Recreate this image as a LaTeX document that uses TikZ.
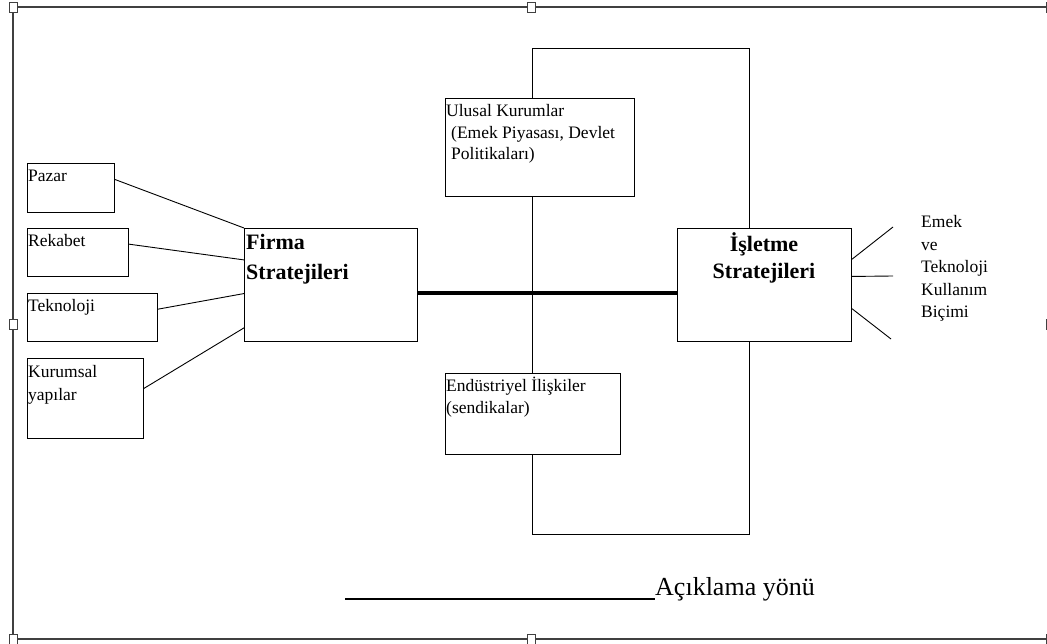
\documentclass[tikz,border=0pt]{standalone}
\usepackage{fontspec}
\setmainfont{Liberation Serif}
\usetikzlibrary{calc}
\begin{document}
\begin{tikzpicture}[x=1pt,y=-1pt,
  box/.style={draw, line width=1pt, fill=white, rectangle, anchor=north west, inner sep=0pt},
  txt/.style={anchor=base west, inner sep=0pt, font=\fontsize{17.5}{22}\selectfont, align=left},
  btxt/.style={inner sep=0pt, font=\fontsize{22}{30}\selectfont\bfseries},
  link/.style={line width=0.9pt},
  frameline/.style={line width=1.3pt, draw=black!75},
  handle/.style={draw=black!75, line width=0.9pt, fill=white, rectangle, minimum width=8pt, minimum height=10pt, inner sep=0pt}]
\useasboundingbox (0,0) rectangle (1047,644);
\clip (0,0) rectangle (1047,644);
\fill[white] (0,0) rectangle (1047,644);

% outer frame
\coordinate (fTL) at (13,7);
\coordinate (fBR) at (1050,639);
\draw[frameline] (fTL) rectangle (fBR);

% big rectangle behind the central boxes
\coordinate (rTL) at (532,49);
\coordinate (rBR) at (749,534);
\draw[line width=1pt] (rTL) rectangle (rBR);

% boxes
\node[box, minimum width=87pt, minimum height=49pt] (pazar) at (27,163) {};
\node[box, minimum width=101pt, minimum height=48pt] (rekabet) at (27,228) {};
\node[box, minimum width=130pt, minimum height=48pt] (teknoloji) at (27,293) {};
\node[box, minimum width=116pt, minimum height=80pt] (kurumsal) at (27,358) {};
\node[box, minimum width=173pt, minimum height=113pt] (firma) at (244,228) {};
\node[box, minimum width=189pt, minimum height=98pt] (ulusal) at (445,98) {};
\node[box, minimum width=175pt, minimum height=81pt] (endustri) at (445,373) {};
\node[box, minimum width=174pt, minimum height=113pt] (isletme) at (677,228) {};

% texts (base anchor of a multi-line node = last line's baseline)
\node[txt] (tpazar) at (28,182) {Pazar};
\node[txt] (trekabet) at (28,247) {Rekabet};
\node[txt] (tteknoloji) at (28,312) {Teknoloji};
\node[txt, font=\fontsize{17.5}{23}\selectfont] (tkurumsal) at (28,400) {Kurumsal\\yapılar};
\node[btxt, anchor=base west, align=left] (tfirma) at (246,280) {Firma\\Stratejileri};
\node[txt, font=\fontsize{17.5}{21.5}\selectfont] (tulusal) at (446,160) {Ulusal Kurumlar\\\hspace*{5pt}(Emek Piyasası, Devlet\\\hspace*{5pt}Politikaları)};
\node[txt] (tendustri) at (446,413) {Endüstriyel İlişkiler\\(sendikalar)};
\node[btxt, anchor=base, align=center, font=\fontsize{22}{27}\selectfont\bfseries] (tisletme) at (764,279) {İşletme\\Stratejileri};
\node[txt, font=\fontsize{17.5}{22.5}\selectfont] (temek) at (921,318) {Emek\\ve\\Teknoloji\\Kullanım\\Biçimi};

% connectors left
\draw[link] ($(pazar.north east)!0.33!(pazar.south east)$) -- (firma.north west);
\draw[link] ($(rekabet.north east)!0.33!(rekabet.south east)$) -- ($(firma.north west)!0.28!(firma.south west)$);
\draw[link] ($(teknoloji.north east)!0.33!(teknoloji.south east)$) -- ($(firma.north west)!0.575!(firma.south west)$);
\draw[link] ($(kurumsal.north east)!0.375!(kurumsal.south east)$) -- ($(firma.north west)!0.876!(firma.south west)$);

% thick connector
\coordinate (th) at ($(firma.north east)!0.57!(firma.south east)$);
\draw[line width=4pt] (th) -- (th -| isletme.west);

% connectors right
\coordinate (e1) at (893,227);
\coordinate (e2) at (893,276);
\coordinate (e3) at (891,339);
\draw[link] ($(isletme.north east)!0.274!(isletme.south east)$) -- (e1);
\draw[link] ($(isletme.north east)!0.425!(isletme.south east)$) -- (e2);
\draw[link] ($(isletme.north east)!0.708!(isletme.south east)$) -- (e3);

% legend
\node[anchor=base west, inner sep=0pt, font=\fontsize{26}{30}\selectfont] (leg) at (655,595) {Açıklama yönü};
\coordinate (legstart) at (345,599);
\draw[line width=1.3pt] (legstart) -- (legstart -| leg.west);

% frame handles
\node[handle] (h1) at (13,7) {};
\node[handle] (h2) at (531,7) {};
\node[handle] (h3) at (13,324) {};
\node[handle] (h4) at (13,639) {};
\node[handle] (h5) at (531,639) {};
\node[handle] (h6) at (1050,324) {};
\node[handle] (h7) at (1050,7) {};
\node[handle] (h8) at (1050,639) {};
\end{tikzpicture}
\end{document}
